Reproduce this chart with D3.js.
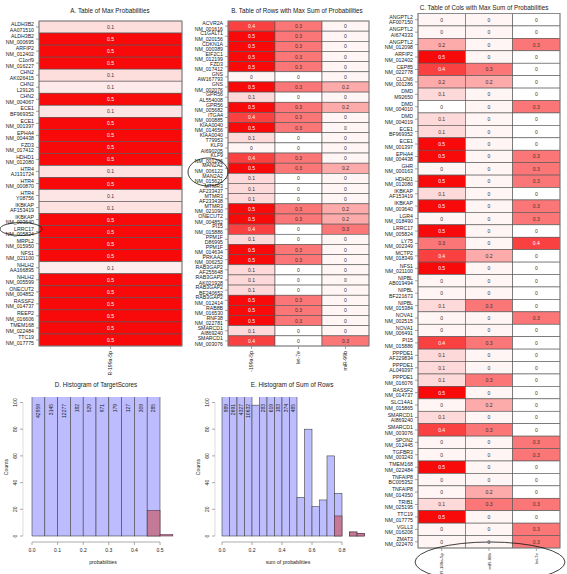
<!DOCTYPE html>
<html><head><meta charset="utf-8">
<script src="https://cdn.jsdelivr.net/npm/d3@7"></script>
<style>body{margin:0;background:#fff}svg{display:block;font-family:"Liberation Sans",Arial,sans-serif}</style>
</head><body><svg id="c" width="567" height="574"></svg>
<script>
// ---------- Panel A data ----------
const aGenes = ["ALDH3B2","ALDH3B2","ARFIP2","C1orf9","CHN2","CHN2","CHN2","ECE1","ECE1","EPHA4","FZD3","HDHD1","HTR4","HTR4","HTR4","IKBKAP","IKBKAP","LRRC17","MRPL2","NFS1","NHLH2","NHLH2","ONECUT2","RASSF2","REEP2","TMEM168","TTC19"];
const aAccs = ["AA071510","NM_000695","NM_012402","NM_016227","AK026415","L29126","NM_004067","BF969352","NM_001397","NM_004438","NM_017412","NM_012080","AJ131724","NM_000870","Y08756","AF153419","NM_003640","NM_005824","NM_015950","NM_021100","AA166895","NM_005599","NM_004852","NM_014737","NM_016606","NM_022484","NM_017775"];
const aMir199 = [0.09,0.5,0.5,0.5,0.09,0.06,0.5,0.07,0.5,0.5,0.5,0.5,0.08,0.5,0.07,0.08,0.5,0.5,0.5,0.5,0.05,0.5,0.5,0.5,0.5,0.5,0.5];
const aColLabels = ["R-199a-5p"];

// ---------- Panel B data ----------
const bGenes = ["ACVR2A","C1GALT1","CDKN1A","EIF2C1","FZD3","GNS","GNS","GPR56","GPR56","ITGA4","KIAA0040","KIAA0040","KLF9","KLF9","MAN2A2","MAN2A2","MTMR3","MTMR3","MTMR3","ONECUT2","PI15","PPM1F","PPM1F","PRKAA2","RAB3GAP2","RAB3GAP2","RAB3GAP2","RAB3GAP2","RAB8B","RNF38","SMARCD1","SMARCD1"];
const bAccs = ["NM_001616","NM_020156","NM_000389","NM_012199","NM_017412","AW167793","NM_002076","AL554008","NM_005682","NM_000885","NM_014656","T79953","AI690205","NM_001206","NM_006122","NM_015621","AF233437","AF233438","NM_021090","NM_004852","NM_015886","D86995","NM_014634","NM_006252","AF255648","AK021928","BF240652","NM_012414","NM_016530","NM_022781","AI869240","NM_003076"];
const bMir199 = [0.4,0.5,0.5,0.5,0.5,0.03,0.5,0.1,0.5,0.4,0.5,0.1,0.03,0.4,0.5,0.1,0.1,0.1,0.5,0.5,0.4,0.1,0.5,0.5,0.1,0.1,0.1,0.5,0.5,0.5,0.1,0.4];
const bLet7e  = [0.3,0.3,0.3,0.3,0.3,0,0.3,0,0.3,0.3,0.3,0,0,0.3,0.3,0,0,0,0.3,0.3,0,0,0.3,0.3,0,0,0,0.3,0.3,0.3,0,0];
const bMir99b = [0.03,0.03,0.03,0.03,0.03,0.03,0.2,0.03,0.2,0.03,0.03,0.03,0.03,0.03,0.2,0.03,0.03,0.03,0.2,0.2,0.3,0.03,0.03,0.03,0.03,0.03,0.03,0.03,0.03,0.03,0.03,0.3];
const bColLabels = ["-199a-5p","let-7e","miR-99b"];

// ---------- Panel C data ----------
const cGenes = ["ANGPTL2","ANGPTL2","ANGPTL2","ARFIP2","CEP85","CLCN6","DMD","DMD","DMD","ECE1","ECE1","EPHA4","GHR","HDHD1","IKBKAP","IKBKAP","LGR4","LRRC17","LY75","MCTP2","NFS1","NIPBL","NIPBL","NIPBL","NOVA1","NOVA1","PI15","PPPDE1","PPPDE1","PPPDE1","RASSF2","SLC14A1","SMARCD1","SMARCD1","SPON2","TGFBR3","TMEM168","TNFAIP8","TNFAIP8","TRIB1","TTC19","VGLL3","ZMAT3"];
const cAccs = ["AF007150","AI674333","NM_012098","NM_012402","NM_022778","NM_001286","M92650","NM_004010","NM_004019","BF969352","NM_001397","NM_004438","NM_000163","NM_012080","AF153419","NM_003640","NM_018490","NM_005824","NM_002349","NM_018349","NM_021100","AB019494","BF221673","NM_015384","NM_002515","NM_006491","NM_015886","AF229834","AL049397","NM_016076","NM_014737","NM_015865","AI869240","NM_003076","NM_012445","NM_003243","NM_022484","BC005352","NM_014350","NM_025195","NM_017775","NM_016206","NM_022470"];
const cMir199 = [0.03,0.03,0.2,0.5,0.4,0.2,0.1,0,0.1,0.1,0.5,0.5,0.03,0.5,0.1,0.5,0.03,0.5,0.3,0.4,0.5,0.03,0.03,0.1,0.03,0.03,0.4,0.1,0.1,0.1,0.5,0.03,0.1,0.4,0.03,0.03,0.5,0.03,0.03,0.1,0.5,0.03,0.03];
const cMir99b = [0.03,0.03,0.03,0.03,0.3,0.2,0.03,0.03,0.03,0.03,0.03,0.03,0.03,0.03,0.03,0.03,0.03,0.03,0.03,0.2,0.03,0.03,0.03,0.3,0.03,0.03,0.3,0.03,0.03,0.3,0.03,0.2,0.03,0.3,0.03,0.03,0.03,0.03,0.2,0.3,0.03,0.03,0.03];
const cLet7e  = [0,0,0.3,0,0,0,0,0.3,0,0,0,0.3,0.3,0.3,0,0.3,0.3,0,0.4,0,0,0,0,0,0.3,0,0,0,0,0,0,0,0,0,0.3,0.3,0,0,0,0.3,0,0.3,0.3];
const cColLabels = ["R-199a-5p","miR-99b","let-7e"];

// ---------- Panel D data ----------
const dBinStarts = [0,0.05,0.1,0.15,0.2,0.25,0.3,0.35,0.4,0.45];
const dAllCounts = [42959,3145,12277,182,529,971,179,127,309,285];
const dSelBinStarts = [0.45,0.5];
const dSelCounts = [19,1];
const dTicksX = [0,0.1,0.2,0.3,0.4,0.5];

// ---------- Panel E data ----------
const eBinStarts = [0,0.05,0.1,0.15,0.2,0.25,0.3,0.35,0.4,0.45,0.5,0.55,0.6,0.65,0.7,0.75,0.8,0.85,0.9];
const eAllCounts = [989,2691,4327,10632,98,283,619,183,374,485,29,80,22,27,60,32,0,3,2];
const eSelBinStarts = [0.75,0.85,0.9];
const eSelCounts = [15,3,2];
const eTicksX = [0,0.2,0.4,0.6,0.8];
const yTicks = [0,20,40,60,80,100];

const svg = d3.select("#c");
const txt = "#222";

function cellColor(v){
  const t = Math.pow(Math.min(v/0.5,1),1.15);
  return d3.interpolateRgb("#ffffff","#f80a0a")(t);
}
function fmt(v){ return String(+v.toFixed(1)); }

function heatmap(o){
  const g = svg.append("g");
  const n = o.genes.length;
  const y = d3.scaleBand().domain(d3.range(n)).range([o.y0,o.y1]);
  const x = d3.scaleBand().domain(o.colLabels).range([o.x0,o.x1]);
  g.append("text").attr("x",o.tx).attr("y",o.ty).attr("text-anchor","middle")
    .attr("dominant-baseline","middle").attr("font-size",6.3).attr("fill",txt).text(o.title);
  o.cols.forEach((vals,ci)=>{
    const cl = o.colLabels[ci];
    g.selectAll(null).data(vals).join("rect")
      .attr("x",x(cl)).attr("y",(d,i)=>y(i)).attr("width",x.bandwidth()).attr("height",y.bandwidth())
      .attr("fill",d=>cellColor(d)).attr("stroke","#555").attr("stroke-width",0.6);
    g.selectAll(null).data(vals).join("text")
      .attr("x",x(cl)+x.bandwidth()/2).attr("y",(d,i)=>y(i)+y.bandwidth()/2)
      .attr("text-anchor","middle").attr("dominant-baseline","central").attr("font-size",5)
      .attr("fill",d=>d>=0.4?"#fff":"#333").text(d=>fmt(d));
    g.append("line").attr("x1",x(cl)+x.bandwidth()/2).attr("x2",x(cl)+x.bandwidth()/2)
      .attr("y1",o.y1).attr("y2",o.y1+3).attr("stroke","#666").attr("stroke-width",0.6);
    g.append("text").attr("transform",`translate(${x(cl)+x.bandwidth()/2+1.8},${o.y1+5}) rotate(-90)`)
      .attr("text-anchor","end").attr("font-size",o.colFont).attr("fill",txt).text(cl);
  });
  g.append("rect").attr("x",o.x0).attr("y",o.y0).attr("width",o.x1-o.x0).attr("height",o.y1-o.y0)
    .attr("fill","none").attr("stroke","#888").attr("stroke-width",0.8);
  const lab = g.selectAll(null).data(o.genes).join("text")
    .attr("text-anchor","end").attr("font-size",5.2).attr("fill",txt);
  lab.append("tspan").attr("x",o.x0-5).attr("y",(d,i)=>y(i)+y.bandwidth()/2-0.8).text(d=>d);
  lab.append("tspan").attr("x",o.x0-5).attr("y",(d,i)=>y(i)+y.bandwidth()/2+4.6).text((d,i)=>o.accs[i]);
  g.selectAll(null).data(o.genes).join("line")
    .attr("x1",o.x0-3).attr("x2",o.x0).attr("y1",(d,i)=>y(i)+y.bandwidth()/2).attr("y2",(d,i)=>y(i)+y.bandwidth()/2)
    .attr("stroke","#666").attr("stroke-width",0.6);
}

heatmap({genes:aGenes,accs:aAccs,cols:[aMir199],colLabels:aColLabels,x0:39,x1:182,y0:21,y1:346,
  title:"A. Table of Max Probabilities",tx:110,ty:11,colFont:5.2});
heatmap({genes:bGenes,accs:bAccs,cols:[bMir199,bLet7e,bMir99b],colLabels:bColLabels,x0:228,x1:369,y0:21,y1:346,
  title:"B. Table of Rows with Max Sum of Probabilities",tx:297,ty:11,colFont:5.2});
heatmap({genes:cGenes,accs:cAccs,cols:[cMir199,cMir99b,cLet7e],colLabels:cColLabels,x0:418,x1:560,y0:13.5,y1:548,
  title:"C. Table of Cols with Max Sum of Probabilities",tx:484,ty:8,colFont:4.4});

function hist(o){
  const g = svg.append("g");
  const x = d3.scaleLinear().domain(o.xdom).range(o.xr);
  const y = d3.scaleLinear().domain([0,100]).range([536,402.5]);
  const cid = "clip"+o.id;
  svg.append("defs").append("clipPath").attr("id",cid).append("rect")
    .attr("x",o.xr[0]-10).attr("y",397).attr("width",o.xr[1]-o.xr[0]+60).attr("height",145);
  g.append("text").attr("x",o.tx).attr("y",385).attr("text-anchor","middle").attr("dominant-baseline","middle")
    .attr("font-size",6.3).attr("fill",txt).text(o.title);
  const bars = g.append("g").attr("clip-path",`url(#${cid})`);
  bars.selectAll(null).data(o.all).join("rect")
    .attr("x",(d,i)=>x(o.bins[i])).attr("width",(d,i)=>x(o.bins[i]+0.05)-x(o.bins[i]))
    .attr("y",d=>y(d)).attr("height",d=>y(0)-y(d))
    .attr("fill","#bcbcff").attr("stroke","#444").attr("stroke-width",0.6);
  bars.selectAll(null).data(o.sel).join("rect")
    .attr("x",(d,i)=>x(o.selBins[i])).attr("width",(d,i)=>x(o.selBins[i]+0.05)-x(o.selBins[i]))
    .attr("y",d=>y(d)).attr("height",d=>y(0)-y(d))
    .attr("fill","#c47a96").attr("stroke","#553344").attr("stroke-width",0.6);
  g.selectAll(null).data(o.all.map((c,i)=>({c,b:o.bins[i]})).filter(d=>d.c>100)).join("text")
    .attr("transform",d=>`translate(${x(d.b+0.025)+1.8},${404}) rotate(-90)`)
    .attr("text-anchor","end").attr("font-size",5).attr("fill",txt).text(d=>d.c);
  // x axis
  g.append("line").attr("x1",x(o.ticks[0])).attr("x2",x(o.ticks[o.ticks.length-1])).attr("y1",542).attr("y2",542)
    .attr("stroke","#888").attr("stroke-width",0.7);
  o.ticks.forEach(t=>{
    g.append("line").attr("x1",x(t)).attr("x2",x(t)).attr("y1",542).attr("y2",545).attr("stroke","#888").attr("stroke-width",0.7);
    g.append("text").attr("x",x(t)).attr("y",551).attr("text-anchor","middle").attr("dominant-baseline","middle")
      .attr("font-size",5).attr("fill",txt).text(t.toFixed(1));
  });
  g.append("text").attr("x",o.xlx).attr("y",563).attr("text-anchor","middle").attr("dominant-baseline","middle")
    .attr("font-size",5.2).attr("fill",txt).text(o.xlab);
  // y axis
  g.append("line").attr("x1",o.ax).attr("x2",o.ax).attr("y1",y(0)).attr("y2",y(100)).attr("stroke","#bbb").attr("stroke-width",0.5);
  yTicks.forEach(t=>{
    g.append("line").attr("x1",o.ax-3).attr("x2",o.ax).attr("y1",y(t)).attr("y2",y(t)).attr("stroke","#888").attr("stroke-width",0.7);
    g.append("text").attr("transform",`translate(${o.ax-7},${y(t)}) rotate(-90)`).attr("text-anchor","middle")
      .attr("dominant-baseline","middle").attr("font-size",5).attr("fill",txt).text(t);
  });
  g.append("text").attr("transform",`translate(${o.ax-16},467) rotate(-90)`).attr("text-anchor","middle")
    .attr("dominant-baseline","middle").attr("font-size",5.2).attr("fill",txt).text("Counts");
}

hist({id:"d",xdom:[0,0.5],xr:[32,160],bins:dBinStarts,all:dAllCounts,selBins:dSelBinStarts,sel:dSelCounts,
  ticks:dTicksX,title:"D. Histogram of TargetScores",tx:96,xlab:"probabilities",xlx:103,ax:23});
hist({id:"e",xdom:[0,0.8],xr:[222,342],bins:eBinStarts,all:eAllCounts,selBins:eSelBinStarts,sel:eSelCounts,
  ticks:eTicksX,title:"E. Histogram of Sum of Rows",tx:292,xlab:"sum of probabilities",xlx:288,ax:215});

// annotation ellipses
const ell = [{cx:21,cy:229,rx:21,ry:6.5},{cx:208,cy:172,rx:20,ry:14},{cx:490,cy:562,rx:75,ry:20}];
svg.selectAll("ellipse").data(ell).join("ellipse")
  .attr("cx",d=>d.cx).attr("cy",d=>d.cy).attr("rx",d=>d.rx).attr("ry",d=>d.ry)
  .attr("fill","none").attr("stroke","#111").attr("stroke-width",0.8);
</script></body></html>
